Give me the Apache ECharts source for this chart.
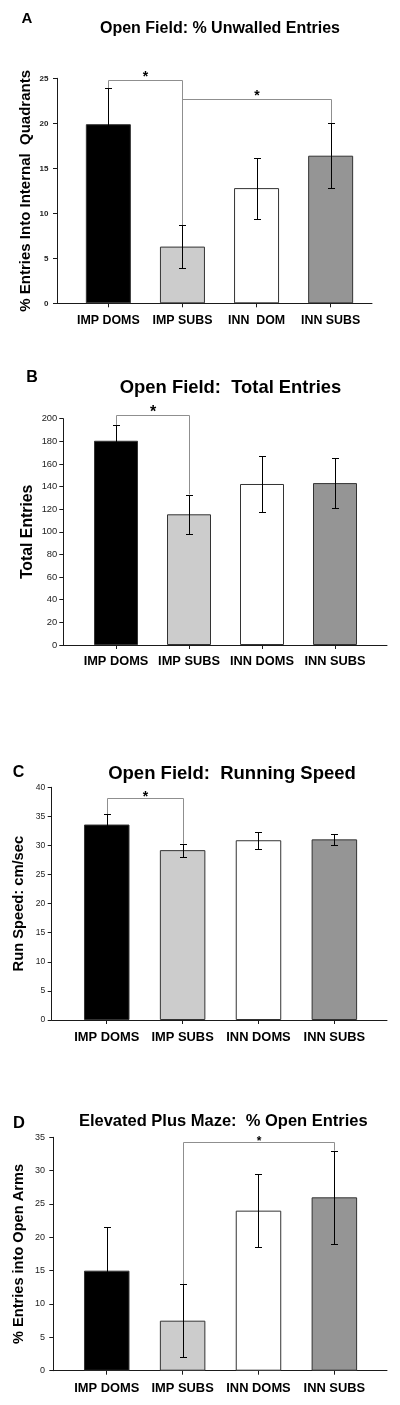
<!DOCTYPE html>
<html><head><meta charset="utf-8">
<script src="https://cdn.jsdelivr.net/npm/echarts@6/dist/echarts.min.js"></script>
<style>html,body{margin:0;padding:0;background:#fff}#c{width:400px;height:1405px}</style>
</head><body><div id="c"></div>
<script>
// ---- data ----
const categoriesA = ['IMP DOMS', 'IMP SUBS', 'INN  DOM', 'INN SUBS'];
const categoriesBCD = ['IMP DOMS', 'IMP SUBS', 'INN DOMS', 'INN SUBS'];
const unwalledMean = [19.9, 6.3, 12.8, 16.4];
const unwalledErr = [4.0, 2.4, 3.4, 3.6];
const totalMean = [180.5, 115.5, 142.3, 143.1];
const totalErr = [14, 17.5, 24.9, 22];
const speedMean = [33.6, 29.2, 30.9, 31.05];
const speedErr = [1.8, 1.1, 1.5, 0.95];
const openMean = [15, 7.5, 24, 26];
const openErr = [6.5, 5.5, 5.5, 7];
// significance brackets: [fromCategory, toCategory, bracketHeight]
const unwalledSig = [[0, 1, 24.8], [1, 3, 22.7]];
const totalSig = [[0, 1, 202.9]];
const speedSig = [[0, 1, 38.1]];
const openSig = [[1, 3, 34.35]];
const unwalledTicks = {max: 25, step: 5};
const totalTicks = {max: 200, step: 20};
const speedTicks = {max: 40, step: 5};
const openTicks = {max: 35, step: 5};
const barColors = ['#000000', '#cccccc', '#ffffff', '#959595'];

// ---- layout ----
const FONT = '"Liberation Sans", Arial, Helvetica, sans-serif';
const panels = [
  {letter: 'A', title: 'Open Field: % Unwalled Entries', titleX: 220, titleY: 29, titleSize: 16,
   letterX: 27, letterY: 19, letterSize: 15,
   yName: '% Entries Into Internal  Quadrants', yNameSize: 15, yNameGap: 23.5,
   axisX: 57, axisEnd: 372, top: 78.3, bottom: 303.3, barsLeft: 71.3, barsWidth: 296.4, barWidth: 45,
   ticks: unwalledTicks, yLabelSize: 8, yLabelBold: true, yLabelMargin: 8.5, xLabelSize: 12.4, xLabelMargin: 11.5,
   cats: categoriesA, mean: unwalledMean, err: unwalledErr, sig: unwalledSig, starSize: 14, starGap: 6.7},
  {letter: 'B', title: 'Open Field:  Total Entries', titleX: 230.5, titleY: 388, titleSize: 18.4,
   letterX: 32, letterY: 377.5, letterSize: 16,
   yName: 'Total Entries', yNameSize: 15.8, yNameGap: 27.5,
   axisX: 63.3, axisEnd: 387, top: 418.7, bottom: 645, barsLeft: 79.5, barsWidth: 292, barWidth: 44,
   ticks: totalTicks, yLabelSize: 9.4, yLabelBold: false, yLabelMargin: 6, xLabelSize: 12.8, xLabelMargin: 10.3,
   cats: categoriesBCD, mean: totalMean, err: totalErr, sig: totalSig, starSize: 16, starGap: 6},
  {letter: 'C', title: 'Open Field:  Running Speed', titleX: 232, titleY: 774, titleSize: 18.5,
   letterX: 18.5, letterY: 772.5, letterSize: 16,
   yName: 'Run Speed: cm/sec', yNameSize: 14.7, yNameGap: 25.3,
   axisX: 51.7, axisEnd: 387, top: 787.3, bottom: 1020, barsLeft: 68.8, barsWidth: 303.5, barWidth: 45.5,
   ticks: speedTicks, yLabelSize: 8.5, yLabelBold: false, yLabelMargin: 6.5, xLabelSize: 12.9, xLabelMargin: 11,
   cats: categoriesBCD, mean: speedMean, err: speedErr, sig: speedSig, starSize: 14, starGap: 4.3},
  {letter: 'D', title: 'Elevated Plus Maze:  % Open Entries', titleX: 223.3, titleY: 1121.7, titleSize: 16.5,
   letterX: 19, letterY: 1123, letterSize: 16.5,
   yName: '% Entries into Open Arms', yNameSize: 14.6, yNameGap: 27,
   axisX: 53.3, axisEnd: 387, top: 1137.3, bottom: 1370.7, barsLeft: 68.8, barsWidth: 303.5, barWidth: 45.5,
   ticks: openTicks, yLabelSize: 9, yLabelBold: false, yLabelMargin: 8.3, xLabelSize: 12.9, xLabelMargin: 11,
   cats: categoriesBCD, mean: openMean, err: openErr, sig: openSig, starSize: 12, starGap: 3.4}
];

const grid = [], xAxis = [], yAxis = [], series = [], graphic = [];
const AXIS_COLOR = '#1a1a1a';

panels.forEach((p, k) => {
  const fi = 2 * k, bi = 2 * k + 1;
  const h = p.bottom - p.top;
  grid.push({left: p.axisX, top: p.top, width: p.axisEnd - p.axisX, height: h});
  grid.push({left: p.barsLeft, top: p.top, width: p.barsWidth, height: h});
  xAxis.push({gridIndex: fi, type: 'value', min: 0, max: 1,
    axisLine: {show: true, lineStyle: {color: AXIS_COLOR, width: 1}},
    axisTick: {show: false}, axisLabel: {show: false}, splitLine: {show: false}});
  yAxis.push({gridIndex: fi, type: 'value', min: 0, max: p.ticks.max, interval: p.ticks.step,
    axisLine: {show: true, lineStyle: {color: AXIS_COLOR, width: 1}},
    axisTick: {show: true, length: 4, inside: false, lineStyle: {color: AXIS_COLOR, width: 1}},
    axisLabel: {show: true, margin: p.yLabelMargin, color: '#222', fontSize: p.yLabelSize,
      fontWeight: p.yLabelBold ? 'bold' : 'normal', fontFamily: FONT},
    splitLine: {show: false},
    name: p.yName, nameLocation: 'middle', nameGap: p.yNameGap, nameMoveOverlap: false,
    nameTextStyle: {fontSize: p.yNameSize, fontWeight: 'bold', color: '#000', fontFamily: FONT}});
  xAxis.push({gridIndex: bi, type: 'category', data: p.cats,
    axisLine: {show: false},
    axisTick: {show: true, alignWithLabel: true, length: 4, lineStyle: {color: AXIS_COLOR, width: 1}},
    axisLabel: {show: true, margin: p.xLabelMargin, color: '#000', fontSize: p.xLabelSize,
      fontWeight: 'bold', fontFamily: FONT, interval: 0},
    splitLine: {show: false}});
  yAxis.push({gridIndex: bi, type: 'value', min: 0, max: p.ticks.max, show: false, splitLine: {show: false}});

  series.push({type: 'bar', xAxisIndex: bi, yAxisIndex: bi, barWidth: p.barWidth, silent: true,
    itemStyle: {borderColor: '#333', borderWidth: 1},
    data: p.mean.map((v, i) => ({value: v, itemStyle: {color: barColors[i]}}))});

  series.push({type: 'custom', xAxisIndex: bi, yAxisIndex: bi, silent: true, z: 5,
    data: p.mean.map((v, i) => [i, v + p.err[i], v - p.err[i]]),
    renderItem: (params, api) => {
      const hi = api.coord([api.value(0), api.value(1)]);
      const lo = api.coord([api.value(0), api.value(2)]);
      const x = Math.round(hi[0]) + 0.5, w = 3.5;
      const yh = Math.round(hi[1]) + 0.5, yl = Math.round(lo[1]) + 0.5;
      const st = {stroke: '#000', lineWidth: 1};
      return {type: 'group', children: [
        {type: 'line', shape: {x1: x, y1: yh, x2: x, y2: yl}, style: st},
        {type: 'line', shape: {x1: x - w, y1: yh, x2: x + w, y2: yh}, style: st},
        {type: 'line', shape: {x1: x - w, y1: yl, x2: x + w, y2: yl}, style: st}
      ]};
    }});

  series.push({type: 'custom', xAxisIndex: bi, yAxisIndex: bi, silent: true, z: 4,
    data: p.sig.map(s => [s[0], s[1], s[2], p.mean[s[0]] + p.err[s[0]], p.mean[s[1]] + p.err[s[1]]]),
    renderItem: (params, api) => {
      const a = api.value(0), b = api.value(1);
      const pa = api.coord([a, api.value(3)]);
      const ta = api.coord([a, api.value(2)]);
      const pb = api.coord([b, api.value(4)]);
      const xa = Math.round(pa[0]) + 0.5, xb = Math.round(pb[0]) + 0.5, yt = Math.round(ta[1]) + 0.5;
      return {type: 'group', children: [
        {type: 'polyline', shape: {points: [[xa, pa[1]], [xa, yt], [xb, yt], [xb, pb[1]]]},
          style: {stroke: '#8f8f8f', lineWidth: 1, fill: null}},
        {type: 'text', x: (xa + xb) / 2, y: yt - p.starGap + 0.22 * p.starSize,
          style: {text: '*', font: `bold ${p.starSize}px ${FONT}`, fill: '#000',
            align: 'center', verticalAlign: 'middle', textAlign: 'center', textVerticalAlign: 'middle'}}
      ]};
    }});

  graphic.push({type: 'text', x: p.titleX, y: p.titleY,
    style: {text: p.title, font: `bold ${p.titleSize}px ${FONT}`, fill: '#000',
      align: 'center', verticalAlign: 'middle', textAlign: 'center', textVerticalAlign: 'middle'}});
  graphic.push({type: 'text', x: p.letterX, y: p.letterY,
    style: {text: p.letter, font: `bold ${p.letterSize}px ${FONT}`, fill: '#000',
      align: 'center', verticalAlign: 'middle', textAlign: 'center', textVerticalAlign: 'middle'}});
});

const chart = echarts.init(document.getElementById('c'), null, {renderer: 'canvas'});
chart.setOption({animation: false, backgroundColor: '#ffffff', grid, xAxis, yAxis, series, graphic});
</script></body></html>
